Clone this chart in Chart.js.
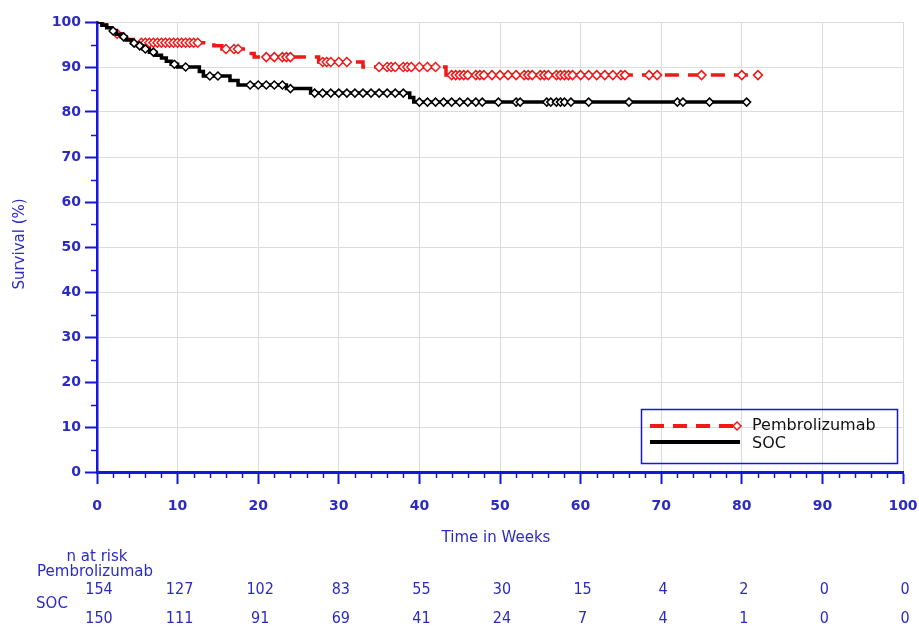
<!DOCTYPE html>
<html><head><meta charset="utf-8">
<script src="https://cdn.jsdelivr.net/npm/chart.js@4"></script>
<style>html,body{margin:0;padding:0;background:#fff}#wrap{width:919px;height:635px;position:relative}</style>
</head><body><div id="wrap"><canvas id="c" width="919" height="635"></canvas></div>
<script>
// ---- data ----
const seriesNames = ['Pembrolizumab', 'SOC'];
const xTicks = [0,10,20,30,40,50,60,70,80,90,100];
const yTicks = [0,10,20,30,40,50,60,70,80,90,100];

const pembroEventTimes = [0.7,1.2,1.8,2.3,3.0,3.8,4.5,14.5,15.5,18.5,19.5,27.5,33.0,43.3];
const pembroSurvival   = [99.4,98.7,98.1,97.4,96.7,96.1,95.4,94.7,94.0,93.0,92.2,91.1,90.0,88.2];
const pembroCensorTimes = [2.5,5.5,6,6.5,7,7.5,8,8.5,9,9.5,10,10.5,11,11.5,12,12.5,16,17,17.5,21,22,23,23.5,24,
  28,28.5,29,30,31,35,36,36.5,37,38,38.5,39,40,41,42,44,44.5,45,45.5,46,47,47.5,48,49,50,51,52,53,53.5,54,55,55.5,
  56,57,57.5,58,58.5,59,60,61,62,63,64,65,65.5,68.5,69.5,75,80,82];

const socEventTimes = [0.6,1.2,1.8,2.4,3.0,3.6,4.3,5.0,5.7,6.5,7.3,8.0,8.6,9.2,10.0,12.7,13.2,16.5,17.5,23.5,26.5,38.8,39.3];
const socSurvival   = [99.3,98.7,98.0,97.3,96.7,96.0,95.3,94.7,94.0,93.3,92.6,92.0,91.3,90.6,90.0,89.0,88.0,87.0,86.0,85.2,84.2,83.2,82.2];
const socCensorTimes = [2,3.3,4.6,5.3,6,7,9.6,11,14,15,19,20,21,22,23,24,27,28,29,30,31,32,33,34,35,36,37,38,
  40,41,42,43,44,45,46,47,47.8,49.8,52,52.5,55.8,56.3,57,57.5,58,58.8,61,66,72,72.7,76,80.6];

const riskTimes = [0,10,20,30,40,50,60,70,80,90,100];
const pembroAtRisk = [154,127,102,83,55,30,15,4,2,0,0];
const socAtRisk    = [150,111,91,69,41,24,7,4,1,0,0];

// ---- helpers ----
function levelAt(times, surv, t){ let v = 100; for (let i=0;i<times.length;i++){ if (times[i] <= t) v = surv[i]; } return v; }
function stepPoints(times, surv, censors){
  const pts = [{x:0,y:100}];
  times.forEach((t,i)=>pts.push({x:t,y:surv[i]}));
  censors.forEach(c=>pts.push({x:c,y:levelAt(times,surv,c)}));
  pts.sort((a,b)=>a.x-b.x);
  return pts;
}
function censorPoints(times, surv, censors){ return censors.map(c=>({x:c,y:levelAt(times,surv,c)})); }

const RED = '#f01818', BLACK = '#000000', AXIS = '#1717d9', TXT = '#2b2bc4';

const overlay = {
  id:'overlay',
  afterDraw(chart){
    const ctx = chart.ctx, xs = chart.scales.x, ys = chart.scales.y, ca = chart.chartArea;
    ctx.save();
    // minor ticks
    ctx.strokeStyle = AXIS; ctx.lineWidth = 1.5;
    for (let v=2; v<100; v+=2){ if (v%10===0) continue; const px = Math.round(xs.getPixelForValue(v))+0.5;
      ctx.beginPath(); ctx.moveTo(px, ca.bottom); ctx.lineTo(px, ca.bottom+6); ctx.stroke(); }
    for (let v=5; v<100; v+=10){ const py = Math.round(ys.getPixelForValue(v))+0.5;
      ctx.beginPath(); ctx.moveTo(ca.left-6, py); ctx.lineTo(ca.left, py); ctx.stroke(); }
    // y title
    ctx.fillStyle = TXT; ctx.font = '15px "DejaVu Sans"'; ctx.textAlign='center'; ctx.textBaseline='middle';
    ctx.save(); ctx.translate(20, 244); ctx.rotate(-Math.PI/2); ctx.fillText('Survival (%)',0,0); ctx.restore();
    // x title
    ctx.fillText('Time in Weeks', 496, 538);
    // legend
    ctx.strokeStyle = AXIS; ctx.lineWidth = 1.5; ctx.strokeRect(641.5, 409.5, 256, 54);
    ctx.strokeStyle = RED; ctx.lineWidth = 4; ctx.setLineDash([14,9]);
    ctx.beginPath(); ctx.moveTo(650,426); ctx.lineTo(740,426); ctx.stroke(); ctx.setLineDash([]);
    ctx.lineWidth = 1.5; ctx.fillStyle='#fff'; ctx.beginPath(); ctx.moveTo(737,422); ctx.lineTo(741,426); ctx.lineTo(737,430); ctx.lineTo(733,426); ctx.closePath(); ctx.fill(); ctx.stroke();
    ctx.strokeStyle = BLACK; ctx.lineWidth = 4;
    ctx.beginPath(); ctx.moveTo(650,442); ctx.lineTo(740,442); ctx.stroke();
    ctx.fillStyle = '#111'; ctx.font = '16px "DejaVu Sans"'; ctx.textAlign='left';
    ctx.fillText(seriesNames[0], 752, 426); ctx.fillText(seriesNames[1], 752, 444);
    // risk table
    ctx.fillStyle = TXT; ctx.font = '15px "DejaVu Sans"'; ctx.textAlign='center';
    ctx.fillText('n at risk', 97, 557);
    ctx.fillText(seriesNames[0], 95, 572);
    ctx.fillText(seriesNames[1], 52, 604);
    ctx.font = '16px "DejaVu Sans Condensed"';
    riskTimes.forEach((t,i)=>{ const px = xs.getPixelForValue(t)+2;
      ctx.fillText(String(pembroAtRisk[i]), px, 590);
      ctx.fillText(String(socAtRisk[i]), px, 619); });
    ctx.restore();
  }
};

new Chart(document.getElementById('c'), {
  type:'line',
  data:{ datasets:[
    { label:seriesNames[1]+' marks', data:censorPoints(socEventTimes,socSurvival,socCensorTimes), showLine:false,
      pointStyle:'rectRot', pointRadius:4, pointBorderWidth:1.5, pointBorderColor:BLACK, pointBackgroundColor:'#fff', order:1 },
    { label:seriesNames[1], data:stepPoints(socEventTimes,socSurvival,socCensorTimes), stepped:'before',
      borderColor:BLACK, borderWidth:3.5, pointRadius:0, fill:false, order:2 },
    { label:seriesNames[0]+' marks', data:censorPoints(pembroEventTimes,pembroSurvival,pembroCensorTimes), showLine:false,
      pointStyle:'rectRot', pointRadius:4.5, pointBorderWidth:1.5, pointBorderColor:RED, pointBackgroundColor:'#fff', order:3 },
    { label:seriesNames[0], data:stepPoints(pembroEventTimes,pembroSurvival,pembroCensorTimes), stepped:'before',
      borderColor:RED, borderWidth:3.5, borderDash:[14,9], pointRadius:0, fill:false, order:4 }
  ]},
  options:{
    responsive:false, animation:false, devicePixelRatio:1,
    layout:{ padding:{ top:22, right:16, left:0, bottom:0 } },
    plugins:{ legend:{display:false}, tooltip:{enabled:false} },
    scales:{
      x:{ type:'linear', min:0, max:100,
        afterBuildTicks:(s)=>{ s.ticks = xTicks.map(v=>({value:v})); },
        afterFit:(s)=>{ s.height = 163; s.paddingLeft = 0; s.paddingRight = 0; },
        ticks:{ color:TXT, font:{family:'DejaVu Sans', size:14, weight:'bold'}, padding:14, maxRotation:0 },
        grid:{ color:'#dcdcdc', lineWidth:1, tickColor:AXIS, tickWidth:2, tickLength:12, drawTicks:true },
        border:{ color:AXIS, width:3 } },
      y:{ type:'linear', min:0, max:100,
        afterBuildTicks:(s)=>{ s.ticks = yTicks.map(v=>({value:v})); },
        afterFit:(s)=>{ s.width = 97; s.paddingTop = 0; s.paddingBottom = 0; },
        ticks:{ color:TXT, font:{family:'DejaVu Sans', size:14, weight:'bold'}, padding:4 },
        grid:{ color:'#dcdcdc', lineWidth:1, tickColor:AXIS, tickWidth:2, tickLength:12, drawTicks:true },
        border:{ color:AXIS, width:2.5 } }
    }
  },
  plugins:[overlay]
});
</script></body></html>
